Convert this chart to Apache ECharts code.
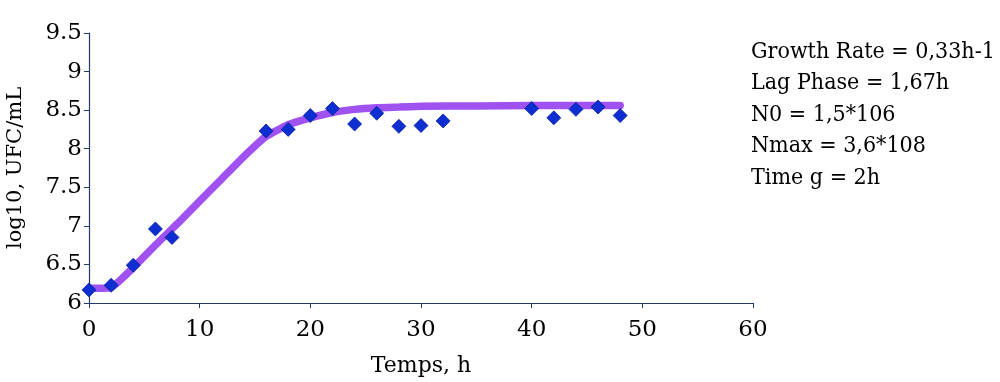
<!DOCTYPE html>
<html>
<head>
<meta charset="utf-8">
<script src="https://cdn.jsdelivr.net/npm/echarts@6/dist/echarts.min.js"></script>
<style>html,body{margin:0;padding:0;background:#fff}#c{width:1000px;height:382px}</style>
</head>
<body>
<div id="c"></div>
<script>
// Observed data (time in h, log10 UFC/mL)
var obsTime = [0, 2, 4, 6, 7.5, 16, 18, 20, 22, 24, 26, 28, 30, 32, 40, 42, 44, 46, 48];
var obsValue = [6.17, 6.23, 6.49, 6.96, 6.85, 8.23, 8.25, 8.43, 8.52, 8.32, 8.46, 8.29, 8.30, 8.36, 8.52, 8.40, 8.51, 8.54, 8.43];
// Fitted growth curve
var fitTime = [0, 1, 2, 3, 4, 6, 8, 10, 12, 14, 16, 18, 20, 22, 24, 26, 28, 30, 35, 40, 45, 48];
var fitValue = [6.19, 6.19, 6.20, 6.32, 6.46, 6.75, 7.03, 7.32, 7.61, 7.90, 8.16, 8.31, 8.40, 8.47, 8.51, 8.53, 8.54, 8.55, 8.555, 8.56, 8.56, 8.56];
var xTicks = {min: 0, max: 60, interval: 10};
var yTicks = {min: 6, max: 9.5, interval: 0.5};
var infoLines = ['Growth Rate = 0,33h-1', 'Lag Phase = 1,67h', 'N0 = 1,5*106', 'Nmax = 3,6*108', 'Time g = 2h'];
var xName = 'Temps, h';
var yName = 'log10, UFC/mL';

var FONT = 'DejaVu Serif';
var axisColor = '#1f3a6b';
var chart = echarts.init(document.getElementById('c'), null, {renderer: 'canvas'});
function pairs(xs, ys){ return xs.map(function(x, i){ return [x, ys[i]]; }); }
chart.setOption({
  animation: false,
  backgroundColor: '#fff',
  grid: {left: 89, right: 247, top: 33, bottom: 79, containLabel: false, outerBoundsMode: 'none'},
  xAxis: {
    type: 'value', min: xTicks.min, max: xTicks.max, interval: xTicks.interval,
    name: xName, nameLocation: 'middle', nameGap: 52,
    nameTextStyle: {fontFamily: FONT, fontSize: 22, color: '#000'},
    axisLine: {show: true, lineStyle: {color: axisColor, width: 1.2}},
    axisTick: {show: true, inside: false, length: 5, lineStyle: {color: axisColor}},
    axisLabel: {fontFamily: FONT, fontSize: 23, color: '#000', margin: 16},
    splitLine: {show: false}
  },
  yAxis: {
    type: 'value', min: yTicks.min, max: yTicks.max, interval: yTicks.interval,
    name: yName, nameLocation: 'middle', nameGap: 63, nameRotate: 90,
    nameTextStyle: {fontFamily: FONT, fontSize: 21, color: '#000'},
    axisLine: {show: true, lineStyle: {color: axisColor, width: 1.2}},
    axisTick: {show: true, inside: false, length: 5, lineStyle: {color: axisColor}},
    axisLabel: {fontFamily: FONT, fontSize: 23, color: '#000', margin: 7},
    splitLine: {show: false}
  },
  graphic: [{
    type: 'text', left: 751, top: 36,
    style: {text: infoLines.join('\n'), font: '23px "DejaVu Serif Condensed", "DejaVu Serif"', fill: '#000', lineHeight: 31.5}
  }],
  series: [
    {
      type: 'line', data: pairs(fitTime, fitValue), smooth: 0.15, showSymbol: false,
      lineStyle: {color: '#a052f0', width: 7.5, cap: 'round'}, z: 2
    },
    {
      type: 'scatter', data: pairs(obsTime, obsValue), symbol: 'diamond', symbolSize: 14,
      itemStyle: {color: '#0d2fd2', borderColor: '#0a1f9a', borderWidth: 0.8, opacity: 1}, z: 3
    }
  ]
});
</script>
</body>
</html>
